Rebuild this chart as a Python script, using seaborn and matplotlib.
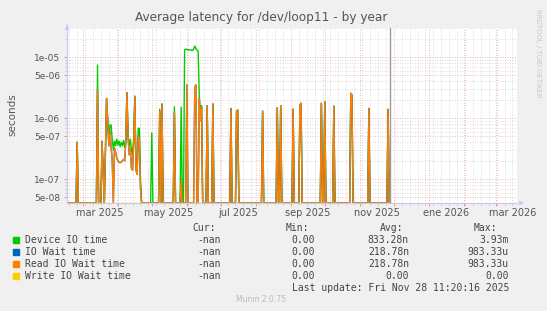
# munin_loop11_latency_year.py
import numpy as np
import pandas as pd
import matplotlib
matplotlib.use("Agg")
import matplotlib.pyplot as plt
import matplotlib.dates as mdates
import matplotlib.ticker as mticker
from matplotlib.patches import Rectangle
import seaborn as sns

# ---------- 1. DATA ----------
start, now, end = "2025-02-15", "2025-11-28", "2026-03-20"

# days with a non-zero latency; every other day up to "now" is 0
active_dates = [
    "2025-02-24", "2025-03-14", "2025-03-18", "2025-03-19", "2025-03-21", "2025-03-22",
    "2025-03-23", "2025-03-24", "2025-03-25", "2025-03-26", "2025-03-27", "2025-03-28",
    "2025-03-29", "2025-03-30", "2025-03-31", "2025-04-01", "2025-04-02", "2025-04-03",
    "2025-04-04", "2025-04-05", "2025-04-06", "2025-04-07", "2025-04-08", "2025-04-09",
    "2025-04-10", "2025-04-11", "2025-04-12", "2025-04-13", "2025-04-14", "2025-04-15",
    "2025-04-16", "2025-04-17", "2025-04-18", "2025-04-19", "2025-04-20", "2025-04-21",
    "2025-05-01", "2025-05-08", "2025-05-10", "2025-05-21", "2025-05-27",
    "2025-05-30", "2025-05-31", "2025-06-01", "2025-06-02", "2025-06-03", "2025-06-04",
    "2025-06-05", "2025-06-06", "2025-06-07", "2025-06-08", "2025-06-09", "2025-06-10",
    "2025-06-11", "2025-06-12", "2025-06-13", "2025-06-14", "2025-06-19", "2025-06-24",
    "2025-07-10", "2025-07-15", "2025-07-16", "2025-08-07", "2025-08-20", "2025-08-23",
    "2025-09-03", "2025-09-09", "2025-09-10", "2025-09-28", "2025-10-01", "2025-10-09",
    "2025-10-24", "2025-10-25", "2025-11-09", "2025-11-26",
]
device_io = [
    4.0e-7, 7.4e-6, 4.2e-7, 1.5e-7, 3.0e-7, 2.1e-6,
    1.0e-6, 4.0e-7, 7.7e-7, 7.7e-7, 4.5e-7, 3.0e-7,
    4.2e-7, 3.5e-7, 4.5e-7, 3.6e-7, 4.2e-7, 3.4e-7,
    4.0e-7, 3.5e-7, 4.3e-7, 3.3e-7, 4.5e-7, 2.6e-6,
    5.5e-7, 3.5e-7, 4.5e-7, 3.0e-7, 2.5e-7, 5.0e-7,
    2.3e-6, 1.6e-7, 1.3e-7, 6.8e-7, 6.8e-7, 1.0e-7,
    5.7e-7, 1.4e-6, 1.7e-6, 1.53e-6, 1.5e-6,
    1.32e-5, 1.35e-5, 1.33e-5, 1.32e-5, 1.3e-5, 1.32e-5,
    1.3e-5, 1.28e-5, 1.35e-5, 1.52e-5, 1.38e-5, 1.3e-5,
    1.25e-5, 2.3e-6, 1.1e-6, 1.6e-6, 1.6e-6, 1.7e-6,
    1.44e-6, 1.3e-6, 1.35e-6, 1.3e-6, 1.47e-6, 1.6e-6,
    1.4e-6, 1.6e-6, 1.75e-6, 1.75e-6, 1.85e-6, 1.57e-6,
    2.54e-6, 2.4e-6, 1.44e-6, 1.39e-6,
]
read_wait = [
    4.0e-7, 2.9e-6, 4.0e-7, 1.2e-7, 3.0e-7, 2.1e-6,
    9.0e-7, 3.5e-7, 6.0e-7, 3.5e-7, 2.0e-7, 0.0,
    3.2e-7, 2.8e-7, 2.2e-7, 2.0e-7, 1.9e-7, 1.85e-7,
    1.9e-7, 2.0e-7, 2.1e-7, 2.0e-7, 4.0e-7, 2.6e-6,
    5.0e-7, 2.5e-7, 3.2e-7, 1.5e-7, 1.4e-7, 4.0e-7,
    2.2e-6, 1.4e-7, 1.2e-7, 5.0e-7, 4.5e-7, 7.0e-8,
    0.0, 1.3e-6, 1.7e-6, 1.24e-6, 1.0e-7,
    0.0, 0.0, 3.5e-6, 0.0, 0.0, 0.0,
    0.0, 0.0, 0.0, 3.2e-6, 3.5e-6, 0.0,
    0.0, 2.1e-6, 9.0e-7, 1.5e-6, 1.6e-6, 1.7e-6,
    1.44e-6, 1.3e-6, 1.35e-6, 1.3e-6, 1.47e-6, 1.6e-6,
    1.4e-6, 1.6e-6, 1.75e-6, 1.75e-6, 1.85e-6, 1.57e-6,
    2.54e-6, 2.4e-6, 1.44e-6, 1.39e-6,
]
# IO wait == read wait, write wait is 0 all year

legend_names = ["Device IO time", "IO Wait time", "Read IO Wait time", "Write IO Wait time"]
legend_colors = ["#00cc00", "#0066b3", "#ff8000", "#ffcc00"]
cur_vals = ["-nan", "-nan", "-nan", "-nan"]
min_vals = ["0.00", "0.00", "0.00", "0.00"]
avg_vals = ["833.28n", "218.78n", "218.78n", "0.00"]
max_vals = ["3.93m", "983.33u", "983.33u", "0.00"]

month_labels = ["mar 2025", "may 2025", "jul 2025", "sep 2025", "nov 2025", "ene 2026", "mar 2026"]
month_label_dates = ["2025-03-16", "2025-05-16", "2025-07-16", "2025-09-16",
                     "2025-11-16", "2026-01-16", "2026-03-16"]
y_ticks = [5e-8, 1e-7, 5e-7, 1e-6, 5e-6, 1e-5]
y_labels = ["5e-08", "1e-07", "5e-07", "1e-06", "5e-06", "1e-05"]
y_min, y_max = 4.05e-8, 3.0e-5

# ---------- 2. DAILY TABLE ----------
days = pd.date_range(start, now, freq="D")
dev = pd.Series(device_io, index=pd.to_datetime(active_dates)).reindex(days).fillna(0.0)
rd = pd.Series(read_wait, index=pd.to_datetime(active_dates)).reindex(days).fillna(0.0)
df = pd.DataFrame({"date": days,
                   legend_names[0]: dev.values,
                   legend_names[1]: rd.values,
                   legend_names[2]: rd.values,
                   legend_names[3]: 0.0})
long = df.melt(id_vars="date", var_name="series", value_name="value")
# zero on a log axis: rrdtool pins it to the bottom edge
long["plot_value"] = long["value"].clip(lower=y_min)

# ---------- 3. PLOT ----------
W, H = 547, 311
fig = plt.figure(figsize=(W / 100, H / 100), dpi=100, facecolor="#f0f0f0")
ax = fig.add_axes([67 / W, 1 - 203 / H, 450 / W, 175 / H])
ax.set_facecolor("white")

sns.lineplot(data=long, x="date", y="plot_value", hue="series", hue_order=legend_names,
             palette=dict(zip(legend_names, legend_colors)), estimator=None,
             linewidth=1.0, legend=False, ax=ax)

ax.set_yscale("log")
ax.set_ylim(y_min, y_max)
ax.set_xlim(pd.Timestamp(start), pd.Timestamp(end))
ax.axvline(pd.Timestamp(now), color="#999999", lw=1.0)

# grid: red dotted for months / labelled decades, gray dotted for weeks / minor
ax.xaxis.set_major_locator(mdates.MonthLocator())
ax.xaxis.set_minor_locator(mdates.WeekdayLocator(byweekday=mdates.MO))
ax.xaxis.set_major_formatter(mticker.NullFormatter())
ax.xaxis.set_minor_formatter(mticker.NullFormatter())
ax.yaxis.set_major_locator(mticker.FixedLocator(y_ticks))
ax.yaxis.set_major_formatter(mticker.FixedFormatter(y_labels))
ax.yaxis.set_minor_locator(mticker.LogLocator(base=10, subs=[2, 3, 4, 6, 7, 8, 9]))
ax.yaxis.set_minor_formatter(mticker.NullFormatter())
ax.grid(which="minor", color="#cfcfcf", linestyle=(0, (1, 2)), linewidth=0.6, zorder=0)
ax.grid(which="major", color="#f0a0a0", linestyle=(0, (1, 2)), linewidth=0.6, zorder=0)
ax.set_axisbelow(True)

ax.tick_params(axis="both", which="major", color="#f08080", length=2, width=0.6,
               labelsize=6.5, labelcolor="#555555", pad=3)
ax.tick_params(axis="both", which="minor", color="#bbbbbb", length=1.5, width=0.5)
ax.set_xlabel(""); ax.set_ylabel("")

for s in ["top", "right"]:
    ax.spines[s].set_visible(False)
for s in ["left", "bottom"]:
    ax.spines[s].set_color("#c8c8f0"); ax.spines[s].set_linewidth(0.8)
ax.annotate("", xy=(1.022, 0), xytext=(1.0, 0), xycoords="axes fraction",
            arrowprops=dict(arrowstyle="-|>", color="#c8c8f0", lw=0.8, mutation_scale=6),
            annotation_clip=False)
ax.annotate("", xy=(0, 1.034), xytext=(0, 1.0), xycoords="axes fraction",
            arrowprops=dict(arrowstyle="-|>", color="#c8c8f0", lw=0.8, mutation_scale=6),
            annotation_clip=False)

for d, lab in zip(month_label_dates, month_labels):
    ax.text(pd.Timestamp(d), -0.06, lab, transform=ax.get_xaxis_transform(),
            ha="center", va="center", fontsize=7, color="#555555")

# ---------- 4. TEXTS & LEGEND ----------
def fx(x): return x / W
def fy(y): return 1 - y / H

fig.text(fx(261), fy(18), "Average latency for /dev/loop11 - by year",
         ha="center", va="center", fontsize=8.7, color="#555555")
fig.text(fx(12), fy(115), "seconds", rotation=90, ha="center", va="center",
         fontsize=7.5, color="#555555")
fig.text(fx(538), fy(53), "RRDTOOL / TOBI OETIKER", rotation=270, ha="center",
         va="center", fontsize=5, color="#c8c8c8")

mono = dict(family="DejaVu Sans Mono", fontsize=7, color="#444444", va="center")
for hx, h in zip([216, 309, 403, 497], ["Cur:", "Min:", "Avg:", "Max:"]):
    fig.text(fx(hx), fy(228), h, ha="right", **mono)
for i, name in enumerate(legend_names):
    y = 240 + 12 * i
    fig.add_artist(Rectangle((fx(13), fy(y + 3)), 6 / W, 6 / H,
                             transform=fig.transFigure, color=legend_colors[i]))
    fig.text(fx(25), fy(y), name, ha="left", **mono)
    fig.text(fx(221), fy(y), cur_vals[i], ha="right", **mono)
    fig.text(fx(315), fy(y), min_vals[i], ha="right", **mono)
    fig.text(fx(409), fy(y), avg_vals[i], ha="right", **mono)
    fig.text(fx(509), fy(y), max_vals[i], ha="right", **mono)
fig.text(fx(509), fy(288), "Last update: Fri Nov 28 11:20:16 2025", ha="right", **mono)
fig.text(fx(261), fy(299), "Munin 2.0.75", ha="center", va="center",
         fontsize=5.5, color="#bbbbbb")

fig.savefig("out.png", dpi=100, facecolor=fig.get_facecolor())
